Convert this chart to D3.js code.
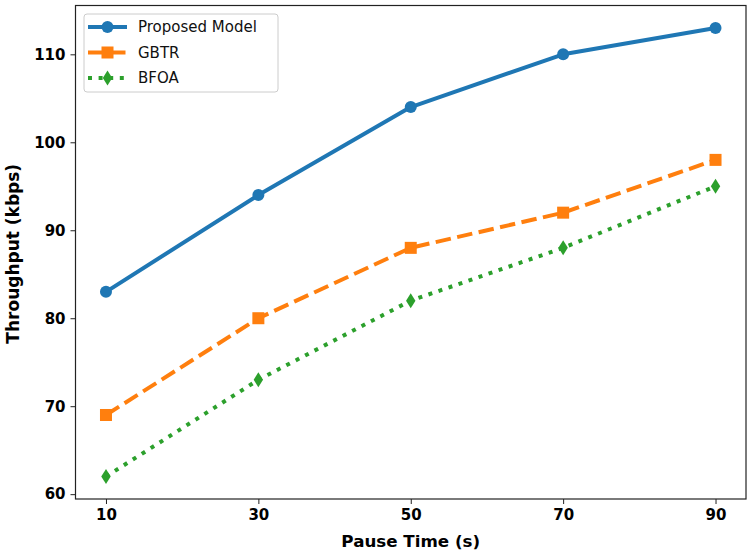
<!DOCTYPE html>
<html>
<head>
<meta charset="utf-8">
<script src="https://cdn.jsdelivr.net/npm/d3@7"></script>
<style>
  body { margin: 0; background: #fff; }
  svg { font-family: "DejaVu Sans", sans-serif; }
</style>
</head>
<body>
<div id="chart"></div>
<script>
var pauseTimes = [10, 30, 50, 70, 90];
var proposedModel = [83, 94, 104, 110, 113];
var gbtr = [69, 80, 88, 92, 98];
var bfoa = [62, 73, 82, 88, 95];
var yTicks = [60, 70, 80, 90, 100, 110];

var series = [
  { name: 'Proposed Model', values: proposedModel, color: '#1f77b4', dash: null, marker: 'circle' },
  { name: 'GBTR', values: gbtr, color: '#ff7f0e', dash: '15.5,6.5', marker: 'square' },
  { name: 'BFOA', values: bfoa, color: '#2ca02c', dash: '4,6.6', marker: 'diamond' }
];

var width = 753, height = 553;
var margin = { left: 75.5, right: 7, top: 5.5, bottom: 54 };

var svg = d3.select('#chart').append('svg')
    .attr('width', width).attr('height', height);

var x = d3.scaleLinear().domain([6, 94]).range([margin.left, width - margin.right]);
var y = d3.scaleLinear().domain([59.45, 115.55]).range([height - margin.bottom, margin.top]);

var xAxis = svg.append('g')
    .attr('transform', 'translate(0,' + (height - margin.bottom) + ')')
    .call(d3.axisBottom(x).tickValues(pauseTimes).tickSize(5).tickPadding(5));
var yAxis = svg.append('g')
    .attr('transform', 'translate(' + margin.left + ',0)')
    .call(d3.axisLeft(y).tickValues(yTicks).tickSize(5).tickPadding(5));

[xAxis, yAxis].forEach(function(a) {
  a.select('.domain').remove();
  a.selectAll('line').attr('stroke', '#222').attr('stroke-width', 1);
  a.selectAll('text').attr('fill', '#000').style('font-size', '15px').style('font-weight', 'bold')
    .style('font-family', '"DejaVu Sans", sans-serif');
});

svg.append('rect')
    .attr('x', margin.left).attr('y', margin.top)
    .attr('width', width - margin.right - margin.left)
    .attr('height', height - margin.bottom - margin.top)
    .attr('fill', 'none').attr('stroke', '#222').attr('stroke-width', 1.2);

function drawMarker(g, type, cx, cy, color) {
  if (type === 'circle') {
    g.append('circle').attr('cx', cx).attr('cy', cy).attr('r', 6).attr('fill', color);
  } else if (type === 'square') {
    g.append('rect').attr('x', cx - 6).attr('y', cy - 6).attr('width', 12).attr('height', 12).attr('fill', color);
  } else {
    g.append('path').attr('d', 'M' + cx + ',' + (cy - 7.5) + 'L' + (cx + 4.7) + ',' + cy +
        'L' + cx + ',' + (cy + 7.5) + 'L' + (cx - 4.7) + ',' + cy + 'Z').attr('fill', color);
  }
}

var line = d3.line().x(function(d) { return x(d[0]); }).y(function(d) { return y(d[1]); });

series.forEach(function(s) {
  var pts = pauseTimes.map(function(t, i) { return [t, s.values[i]]; });
  var g = svg.append('g');
  g.append('path').datum(pts)
      .attr('d', line)
      .attr('fill', 'none')
      .attr('stroke', s.color)
      .attr('stroke-width', 4)
      .attr('stroke-dasharray', s.dash)
      .attr('stroke-linejoin', 'round');
  pts.forEach(function(p) { drawMarker(g, s.marker, x(p[0]), y(p[1]), s.color); });
});

// legend
var lg = svg.append('g');
lg.append('rect')
    .attr('x', 84).attr('y', 14).attr('width', 194).attr('height', 78).attr('rx', 3)
    .attr('fill', '#fff').attr('fill-opacity', 0.8).attr('stroke', '#ccc').attr('stroke-width', 1);
series.forEach(function(s, i) {
  var cy = 27 + i * 25.5;
  lg.append('line').attr('x1', 88).attr('x2', 127).attr('y1', cy).attr('y2', cy)
      .attr('stroke', s.color).attr('stroke-width', 4).attr('stroke-dasharray', s.dash);
  drawMarker(lg, s.marker, 107.5, cy, s.color);
  lg.append('text').attr('x', 138).attr('y', cy).attr('dy', '0.36em')
      .style('font-size', '15px').attr('fill', '#111').text(s.name);
});

svg.append('text')
    .attr('x', x(50)).attr('y', 547)
    .attr('text-anchor', 'middle')
    .style('font-size', '16.7px').style('font-weight', 'bold')
    .text('Pause Time (s)');
svg.append('text')
    .attr('transform', 'translate(18.5,' + ((margin.top + height - margin.bottom) / 2 + 1.5) + ') rotate(-90)')
    .attr('text-anchor', 'middle')
    .style('font-size', '17px').style('font-weight', 'bold')
    .text('Throughput (kbps)');
</script>
</body>
</html>
